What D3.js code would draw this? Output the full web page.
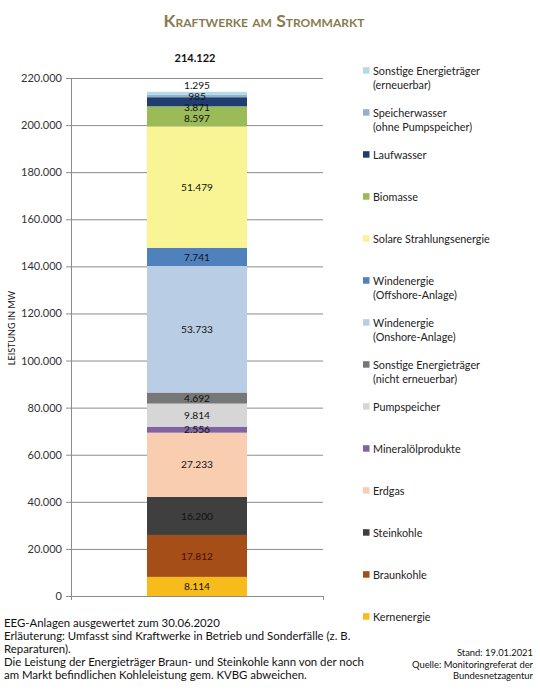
<!DOCTYPE html>
<html lang="de">
<head>
<meta charset="utf-8">
<script src="https://cdn.jsdelivr.net/npm/d3@7"></script>
<style>
    body { margin: 0; background: #fff; }
    #chart text { font-family: Lato, "Open Sans", sans-serif; }
</style>
</head>
<body>
<div id="chart"></div>
<script>
// Kraftwerke am Strommarkt, Leistung in MW (von unten nach oben gestapelt)
const categories = [
    "Kernenergie", "Braunkohle", "Steinkohle", "Erdgas", "Mineralölprodukte",
    "Pumpspeicher", "Sonstige Energieträger (nicht erneuerbar)",
    "Windenergie (Onshore-Anlage)", "Windenergie (Offshore-Anlage)",
    "Solare Strahlungsenergie", "Biomasse", "Laufwasser",
    "Speicherwasser (ohne Pumpspeicher)", "Sonstige Energieträger (erneuerbar)"
];
const values = [8114, 17812, 16200, 27233, 2556, 9814, 4692, 53733, 7741, 51479, 8597, 3871, 985, 1295];
const legendLines = [
    ["Kernenergie"], ["Braunkohle"], ["Steinkohle"], ["Erdgas"], ["Mineralölprodukte"],
    ["Pumpspeicher"], ["Sonstige Energieträger", "(nicht erneuerbar)"],
    ["Windenergie", "(Onshore-Anlage)"], ["Windenergie", "(Offshore-Anlage)"],
    ["Solare Strahlungsenergie"], ["Biomasse"], ["Laufwasser"],
    ["Speicherwasser", "(ohne Pumpspeicher)"], ["Sonstige Energieträger", "(erneuerbar)"]
];
const yTicks = [0, 20000, 40000, 60000, 80000, 100000, 120000, 140000, 160000, 180000, 200000, 220000];
const noteLines = [
    "EEG-Anlagen ausgewertet zum 30.06.2020",
    "Erläuterung: Umfasst sind Kraftwerke in Betrieb und Sonderfälle (z. B.",
    "Reparaturen).",
    "Die Leistung der Energieträger Braun- und Steinkohle kann von der noch",
    "am Markt befindlichen Kohleleistung gem. KVBG abweichen."
];
const sourceLines = ["Stand: 19.01.2021", "Quelle: Monitoringreferat der", "Bundesnetzagentur"];

const colors = [
    "#f8bb1c", "#a54e17", "#3f3f3f", "#f9cdb0", "#8064a2",
    "#d6d6d6", "#777777", "#b9cde5", "#4f81bd",
    "#faf594", "#9bbb59", "#1f3d70", "#93b1cc", "#b4d9e8"
];
const labelColors = {"Braunkohle": "#4a0c00"};

const de = d3.formatLocale({decimal: ",", thousands: ".", grouping: [3], currency: ["", " €"]});
const fmt = de.format(",d");

const W = 540, H = 698;
const plot = {left: 71, right: 323, top: 78, bottom: 596};

function _stack() {
    let acc = 0;
    return categories.map((name, i) => {
        const d = {name, value: values[i], color: colors[i], y0: acc, y1: acc + values[i]};
        acc += values[i];
        return d;
    });
}

function _relaxLabels(items, minGap) {
    // einfache Entzerrung eng beieinanderliegender Beschriftungen
    const sorted = items.slice().sort((a, b) => a.ly - b.ly);
    for (let k = 0; k < 300; k++) {
        for (let i = 1; i < sorted.length; i++) {
            const gap = sorted[i].ly - sorted[i - 1].ly;
            if (gap < minGap) {
                const shift = (minGap - gap) / 2;
                sorted[i].ly += shift;
                sorted[i - 1].ly -= shift;
            }
        }
    }
}

function _plot() {
    const data = _stack();
    const total = d3.sum(values);

    const y = d3.scaleLinear().domain([0, 220000]).range([plot.bottom, plot.top]);
    const x = d3.scaleBand().domain(["Kraftwerke"]).range([plot.left, plot.right])
        .paddingInner(0).paddingOuter(0.76);

    const svg = d3.create("svg")
        .attr("width", W)
        .attr("height", H)
        .attr("viewBox", [0, 0, W, H]);

    // Titel
    svg.append("text")
        .attr("x", 264).attr("y", 27)
        .attr("text-anchor", "middle")
        .style("font-variant", "small-caps")
        .attr("font-weight", "bold")
        .attr("font-size", 17.5)
        .attr("fill", "#8a7b4e")
        .text("Kraftwerke am Strommarkt");

    // Gitterlinien
    svg.append("g")
        .attr("transform", `translate(${plot.left},0)`)
        .call(d3.axisRight(y).tickValues(yTicks).tickSize(plot.right - plot.left).tickFormat(""))
        .call(g => g.select(".domain").remove())
        .call(g => g.selectAll("line").attr("stroke", "#8c8c8c"));

    // y-Achse
    svg.append("g")
        .attr("transform", `translate(${plot.left},0)`)
        .call(d3.axisLeft(y).tickValues(yTicks).tickSize(5).tickPadding(4).tickFormat(fmt))
        .call(g => g.select(".domain").attr("stroke", "#8c8c8c"))
        .call(g => g.selectAll("line").attr("stroke", "#8c8c8c"))
        .call(g => g.selectAll("text")
            .attr("font-family", "Lato, 'Open Sans', sans-serif")
            .attr("font-size", 11)
            .attr("fill", "#333"));

    // x-Achse
    const xEdge = d3.scaleLinear().domain([0, 1]).range([plot.left, plot.right]);
    svg.append("g")
        .attr("transform", `translate(0,${plot.bottom})`)
        .call(d3.axisBottom(xEdge).tickValues([0, 1]).tickSize(4).tickFormat(""))
        .call(g => g.select(".domain").attr("stroke", "#8c8c8c"))
        .call(g => g.selectAll("line").attr("stroke", "#8c8c8c"));

    // Achsentitel
    svg.append("text")
        .attr("transform", `translate(15,328) rotate(-90)`)
        .attr("text-anchor", "middle")
        .attr("font-size", 9)
        .attr("fill", "#111")
        .text("LEISTUNG IN MW");

    // gestapelter Balken
    svg.append("g")
        .selectAll("rect")
        .data(data)
        .join("rect")
        .attr("x", x("Kraftwerke"))
        .attr("width", x.bandwidth())
        .attr("y", d => y(d.y1))
        .attr("height", d => y(d.y0) - y(d.y1))
        .attr("fill", d => d.color);

    // Wertebeschriftungen
    data.forEach(d => { d.ly = y((d.y0 + d.y1) / 2); });
    _relaxLabels(data, 11);
    svg.append("g")
        .selectAll("text")
        .data(data)
        .join("text")
        .attr("x", x("Kraftwerke") + x.bandwidth() / 2)
        .attr("y", d => d.ly)
        .attr("dy", "0.36em")
        .attr("text-anchor", "middle")
        .attr("font-size", 10.2)
        .attr("fill", d => labelColors[d.name] ?? "#111")
        .text(d => fmt(d.value));

    // Summe
    svg.append("text")
        .attr("x", x("Kraftwerke") + x.bandwidth() / 2 - 2)
        .attr("y", 58)
        .attr("dy", "0.36em")
        .attr("text-anchor", "middle")
        .attr("font-weight", "bold")
        .attr("font-size", 11)
        .attr("fill", "#111")
        .text(fmt(total));

    // Legende (oben: letzter Stapelwert)
    const legend = svg.append("g");
    const items = data.map((d, i) => ({...d, lines: legendLines[i]})).reverse();
    items.forEach((d, i) => {
        const cy = 70.7 + i * 42;
        const g = legend.append("g").attr("transform", `translate(363,${cy})`);
        g.append("rect")
            .attr("x", 0).attr("y", -3.5)
            .attr("width", 6.5).attr("height", 6.5)
            .attr("fill", d.color);
        d.lines.forEach((line, j) => {
            g.append("text")
                .attr("x", 10)
                .attr("y", j * 14.5)
                .attr("dy", "0.36em")
                .attr("font-size", 10.8)
                .attr("fill", "#222")
                .text(line);
        });
    });

    // Fussnoten
    svg.append("g")
        .selectAll("text")
        .data(noteLines)
        .join("text")
        .attr("x", 4)
        .attr("y", (d, i) => 623 + i * 13)
        .attr("dy", "0.36em")
        .attr("font-size", 11.4)
        .attr("fill", "#111")
        .text(d => d);

    svg.append("g")
        .selectAll("text")
        .data(sourceLines)
        .join("text")
        .attr("x", 533)
        .attr("y", (d, i) => 653 + i * 11.4)
        .attr("dy", "0.36em")
        .attr("text-anchor", "end")
        .attr("font-size", 9.4)
        .attr("fill", "#111")
        .text(d => d);

    document.getElementById("chart").appendChild(svg.node());
}

_plot();
</script>
</body>
</html>
